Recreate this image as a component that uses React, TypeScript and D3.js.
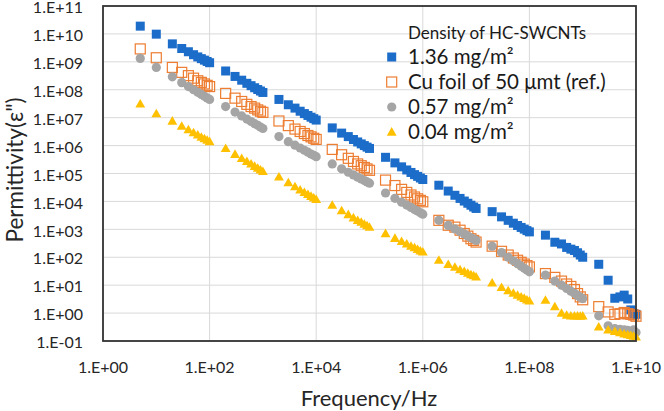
import React from 'react';
import * as d3 from 'd3';

const FREQS_HZ = [
  5, 10,
  20, 30, 40, 50, 60, 70, 80, 90, 100,
  200, 300, 400, 500, 600, 700, 800, 900, 1e3,
  2e3, 3e3, 4e3, 5e3, 6e3, 7e3, 8e3, 9e3, 1e4,
  2e4, 3e4, 4e4, 5e4, 6e4, 7e4, 8e4, 9e4, 1e5,
  2e5, 3e5, 4e5, 5e5, 6e5, 7e5, 8e5, 9e5, 1e6,
  2e6, 3e6, 4e6, 5e6, 6e6, 7e6, 8e6, 9e6, 1e7,
  2e7, 3e7, 4e7, 5e7, 6e7, 7e7, 8e7, 9e7, 1e8,
  2e8, 3e8, 4e8, 5e8, 6e8, 7e8, 8e8, 9e8, 1e9,
  2e9, 3e9, 4e9, 5e9, 6e9, 7e9, 8e9, 9e9, 1e10,
];

const HC_136 = [
  1.9e10, 9.8e9,
  4.4e9, 3.0e9, 2.3e9, 1.8e9, 1.5e9, 1.3e9, 1.15e9, 1.03e9, 9.3e8,
  4.7e8, 3.0e8, 2.2e8, 1.7e8, 1.4e8, 1.18e8, 1.02e8, 9.0e7, 8.0e7,
  4.5e7, 2.9e7, 2.2e7, 1.7e7, 1.4e7, 1.2e7, 1.04e7, 9.2e6, 8.2e6,
  4.3e6, 2.8e6, 2.1e6, 1.65e6, 1.35e6, 1.15e6, 1.0e6, 8.8e5, 7.9e5,
  3.8e5, 2.4e5, 1.73e5, 1.34e5, 1.09e5, 9.1e4, 7.9e4, 6.9e4, 6.1e4,
  3.8e4, 2.35e4, 1.66e4, 1.28e4, 1.03e4, 8.6e3, 7.3e3, 6.3e3, 5.6e3,
  4.3e3, 2.8e3, 2.1e3, 1.66e3, 1.37e3, 1.17e3, 1.02e3, 9.0e2, 8.1e2,
  620, 345, 300, 225, 195, 175, 145, 120, 100,
  56, 15, 3.4, 3.8, 4.4, 3.2, 1.3, 0.95, 0.9,
];

const CU_FOIL = [
  2.9e9, 1.4e9,
  6.3e8, 4.2e8, 3.2e8, 2.6e8, 2.1e8, 1.84e8, 1.62e8, 1.44e8, 1.3e8,
  7.4e7, 5.0e7, 3.8e7, 3.0e7, 2.5e7, 2.2e7, 1.9e7, 1.7e7, 1.55e7,
  7.6e6, 5.2e6, 3.9e6, 3.2e6, 2.7e6, 2.3e6, 2.05e6, 1.83e6, 1.66e6,
  7.3e5, 4.7e5, 3.5e5, 2.7e5, 2.2e5, 1.9e5, 1.65e5, 1.46e5, 1.3e5,
  5.8e4, 3.7e4, 2.7e4, 2.1e4, 1.7e4, 1.44e4, 1.24e4, 1.09e4, 9.7e3,
  2.1e3, 1.4e3, 1.2e3, 9.3e2, 7.1e2, 5.7e2, 4.6e2, 4.0e2, 3.5e2,
  250, 163, 120, 94, 78, 66, 57, 50, 45,
  26, 19, 14, 11, 9, 7, 5, 3.8, 3.0,
  1.7, 1.1, 0.9, 0.95, 1.05, 0.95, 0.9, 0.85, 0.77,
];

const HC_057 = [
  1.33e9, 6.3e8,
  2.9e8, 1.8e8, 1.3e8, 1.0e8, 8.1e7, 6.8e7, 5.8e7, 5.1e7, 4.5e7,
  2.5e7, 1.58e7, 1.15e7, 8.9e6, 7.3e6, 6.1e6, 5.3e6, 4.6e6, 4.1e6,
  2.1e6, 1.38e6, 1.03e6, 8.2e5, 6.8e5, 5.8e5, 5.0e5, 4.5e5, 4.0e5,
  2.2e5, 1.47e5, 1.11e5, 8.9e4, 7.4e4, 6.4e4, 5.6e4, 5.0e4, 4.5e4,
  2.0e4, 1.29e4, 9.4e3, 7.4e3, 6.1e3, 5.1e3, 4.5e3, 3.9e3, 3.5e3,
  2.1e3, 1.38e3, 1.03e3, 8.2e2, 6.8e2, 5.8e2, 5.0e2, 4.5e2, 4.0e2,
  250, 147, 100, 75, 59, 48, 40, 35, 30,
  23, 14, 10, 7.6, 6.1, 5.1, 4.3, 3.7, 3.3,
  0.8, 0.35, 0.28, 0.26, 0.25, 0.24, 0.22, 0.25, 0.2,
];

const HC_004 = [
  3.1e7, 1.4e7,
  7.6e6, 5.0e6, 3.7e6, 2.9e6, 2.4e6, 2.0e6, 1.77e6, 1.56e6, 1.4e6,
  7.9e5, 4.9e5, 3.5e5, 2.7e5, 2.2e5, 1.82e5, 1.56e5, 1.36e5, 1.2e5,
  7.6e4, 4.75e4, 3.4e4, 2.6e4, 2.1e4, 1.78e4, 1.53e4, 1.33e4, 1.18e4,
  7.4e3, 4.7e3, 3.4e3, 2.6e3, 2.1e3, 1.8e3, 1.55e3, 1.35e3, 1.2e3,
  710, 480, 370, 300, 250, 220, 190, 170, 155,
  79, 56, 44, 36, 31, 27, 24, 22, 20,
  12, 8.3, 6.4, 5.2, 4.4, 3.8, 3.4, 3.0, 2.75,
  2.9, 1.7, 1.0, 0.85, 0.8, 0.8, 0.8, 0.78, 0.8,
  0.32, 0.25, 0.22, 0.2, 0.18, 0.17, 0.16, 0.15, 0.14,
];

const X_TICKS = [1, 1e2, 1e4, 1e6, 1e8, 1e10];
const X_TICK_LABELS = ['1.E+00', '1.E+02', '1.E+04', '1.E+06', '1.E+08', '1.E+10'];
const Y_TICKS = [1e-1, 1e0, 1e1, 1e2, 1e3, 1e4, 1e5, 1e6, 1e7, 1e8, 1e9, 1e10, 1e11];
const Y_TICK_LABELS = ['1.E-01', '1.E+00', '1.E+01', '1.E+02', '1.E+03', '1.E+04', '1.E+05',
  '1.E+06', '1.E+07', '1.E+08', '1.E+09', '1.E+10', '1.E+11'];

const LEGEND_TITLE = 'Density of HC-SWCNTs';
const SERIES_LABELS = ['1.36 mg/m²', 'Cu foil of 50 μmt (ref.)', '0.57 mg/m²', '0.04 mg/m²'];

const FONT = 'Lato, "Open Sans", sans-serif';
const BLUE = '#1C6DC9';
const ORANGE = '#ED7D31';
const GRAY = '#A5A5A5';
const YELLOW = '#FFC000';

const W = 664, H = 411;
const L = 103, R = 636, T = 6, B = 341;

const x = d3.scaleLog().domain([1, 1e10]).range([L, R]);
const y = d3.scaleLog().domain([1e-1, 1e11]).range([B, T]);

const triPath = d3.symbol().type(d3.symbolTriangle).size(42)() as string;

function Marker({ kind, cx, cy }: { kind: number; cx: number; cy: number }) {
  if (kind === 0) return <rect x={cx - 4.5} y={cy - 4.5} width={9} height={9} fill={BLUE} />;
  if (kind === 1) return <rect x={cx - 5} y={cy - 5} width={10} height={10} fill="none" stroke={ORANGE} strokeWidth={1.2} />;
  if (kind === 2) return <circle cx={cx} cy={cy} r={4.6} fill={GRAY} />;
  return <path d={triPath} transform={`translate(${cx},${cy + 0.8})`} fill={YELLOW} />;
}

export default function App() {
  const series = [HC_136, CU_FOIL, HC_057, HC_004];
  return (
    <svg width={W} height={H} style={{ position: 'absolute', left: 0, top: 0, background: '#fff' }}
      fontFamily={FONT}>
      <rect x={0} y={0} width={W} height={H} fill="#fff" />
      {Y_TICKS.map((t) => (
        <line key={'gy' + t} x1={L} x2={R} y1={y(t)} y2={y(t)} stroke="#d9d9d9" strokeWidth={1} />
      ))}
      {X_TICKS.map((t) => (
        <line key={'gx' + t} x1={x(t)} x2={x(t)} y1={T} y2={B} stroke="#d9d9d9" strokeWidth={1} />
      ))}
      {Y_TICKS.map((t, i) => (
        <text key={'ly' + t} x={83} y={y(t)} dy="0.45em" textAnchor="end" fontSize={16} fill="#262626">
          {Y_TICK_LABELS[i]}
        </text>
      ))}
      {X_TICKS.map((t, i) => (
        <text key={'lx' + t} x={x(t)} y={373} textAnchor="middle" fontSize={16} fill="#262626">
          {X_TICK_LABELS[i]}
        </text>
      ))}
      <text x={369} y={406} textAnchor="middle" fontSize={22} fill="#262626">Frequency/Hz</text>
      <text transform="translate(22.5,170) rotate(-90)" textAnchor="middle" fontSize={22.5} fill="#262626">
        Permittivity(ε")
      </text>
      {series.map((vals, si) => (
        <g key={'s' + si}>
          {vals.map((v, i) => (
            <Marker key={i} kind={si} cx={x(FREQS_HZ[i])} cy={y(v)} />
          ))}
        </g>
      ))}
      <rect x={L} y={T} width={R - L} height={B - T} fill="none" stroke="#333" strokeWidth={1.8} />
      <text x={408} y={39} fontSize={17} fill="#1a1a1a">{LEGEND_TITLE}</text>
      {SERIES_LABELS.map((s, i) => (
        <g key={'lg' + i}>
          <Marker kind={i} cx={391.7} cy={57 + i * 25} />
          <text x={408} y={57 + i * 25} dy="0.36em" fontSize={20.5} fill="#1a1a1a">{s}</text>
        </g>
      ))}
    </svg>
  );
}
